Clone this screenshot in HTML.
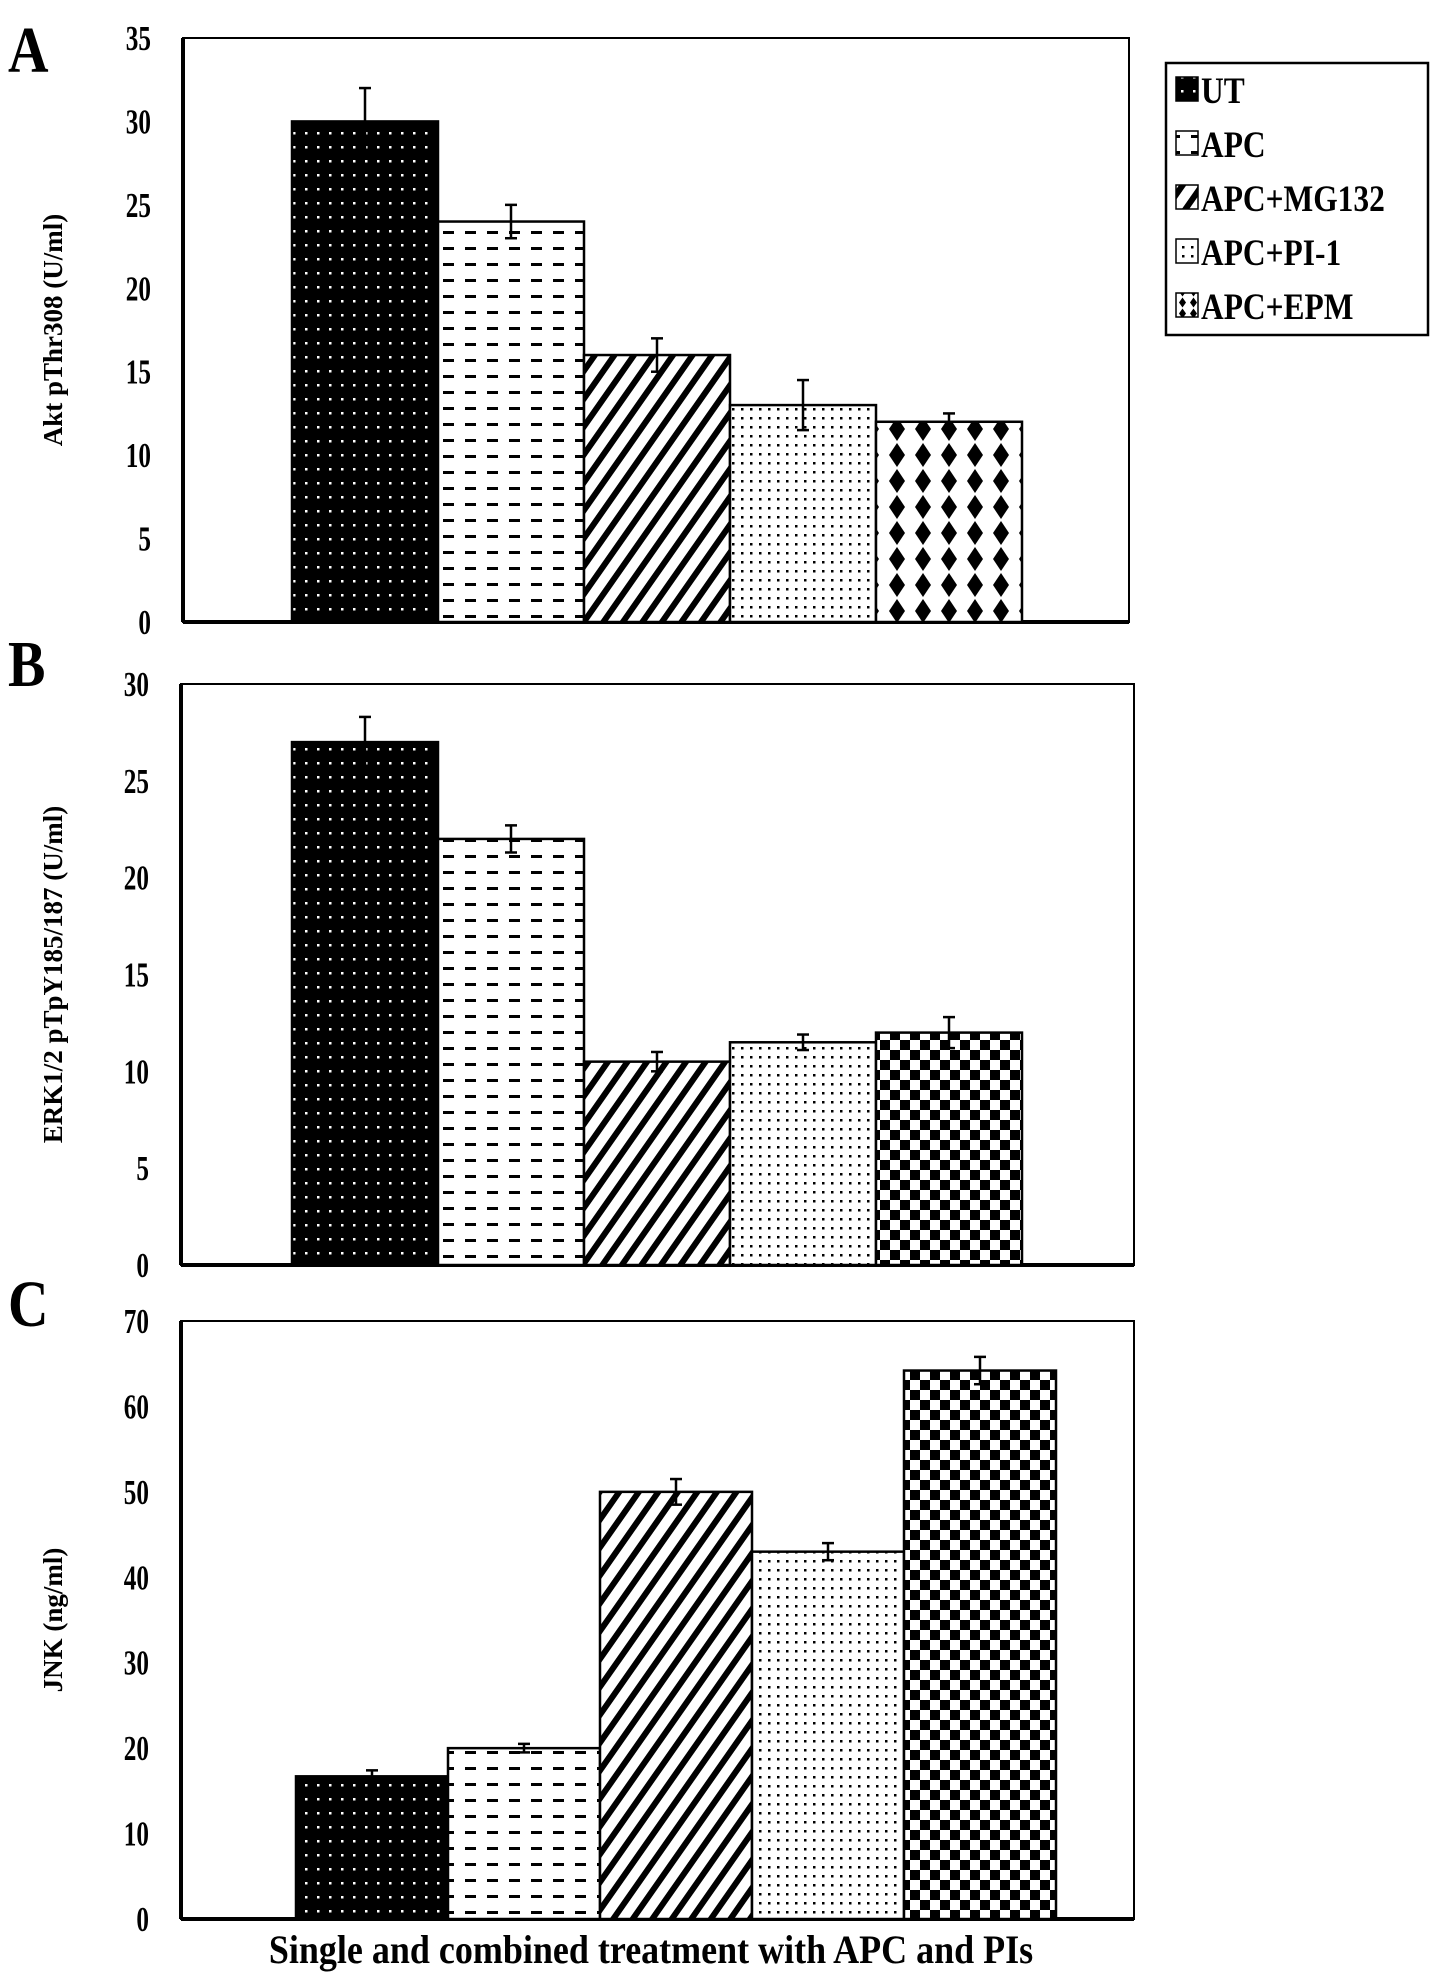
<!DOCTYPE html>
<html><head><meta charset="utf-8"><style>
body{margin:0;background:#fff;}
svg{display:block;font-family:"Liberation Serif",serif;font-weight:bold;}
</style></head><body>
<svg id="fig" width="1441" height="1981" viewBox="0 0 1441 1981" xmlns="http://www.w3.org/2000/svg">
<defs>
<pattern id="pUT" width="12" height="14" patternUnits="userSpaceOnUse"><rect width="12" height="14" fill="#000"/><rect x="5" y="6" width="2.5" height="2.5" fill="#fff"/></pattern>
<pattern id="pAPC" width="22" height="16" patternUnits="userSpaceOnUse"><rect width="22" height="16" fill="#fff"/><rect x="3" y="7" width="11" height="3" fill="#000"/></pattern>
<pattern id="pMG" width="16" height="16" patternUnits="userSpaceOnUse" patternTransform="rotate(35)"><rect width="16" height="16" fill="#fff"/><rect width="6" height="16" fill="#000"/></pattern>
<pattern id="pPI" width="9" height="9" patternUnits="userSpaceOnUse"><rect width="9" height="9" fill="#fff"/><rect x="3" y="3" width="2.5" height="2.5" fill="#000"/></pattern>
<pattern id="pEPM" width="26" height="26" patternUnits="userSpaceOnUse"><rect width="26" height="26" fill="#fff"/><polygon points="13,1 21,13 13,25 5,13" fill="#000"/></pattern>
<pattern id="pCHK" width="20" height="20" patternUnits="userSpaceOnUse"><rect width="20" height="20" fill="#fff"/><rect width="10" height="10" fill="#000"/><rect x="10" y="10" width="10" height="10" fill="#000"/></pattern>
<pattern id="pEPMs" width="11" height="11" patternUnits="userSpaceOnUse"><rect width="11" height="11" fill="#fff"/><polygon points="5.5,0.5 9,5.5 5.5,10.5 2,5.5" fill="#000"/></pattern>
</defs>
<g id="legend"></g>
</svg>
<script>
const categories = ["UT","APC","APC+MG132","APC+PI-1","APC+EPM"];
const valuesA = [30,24,16,13,12];
const errorsA = [2,1,1,1.5,0.5];
const valuesB = [27,22,10.5,11.5,12];
const errorsB = [1.3,0.7,0.5,0.4,0.8];
const valuesC = [16.7,20,50,43,64.2];
const errorsC = [0.7,0.5,1.5,1,1.6];
const ticksA = [0,5,10,15,20,25,30,35];
const ticksB = [0,5,10,15,20,25,30];
const ticksC = [0,10,20,30,40,50,60,70];

const NS="http://www.w3.org/2000/svg";
const svg=document.getElementById('fig');
function mk(tag,attrs,parent){const e=document.createElementNS(NS,tag);for(const k in attrs)e.setAttribute(k,attrs[k]);(parent||svg).appendChild(e);return e;}

function panel(opt){
  const g=mk('g',{});
  
  
  const {x0,x1,y0,y1,max}=opt;
  const yS=v=>y1-(v/max)*(y1-y0);
  mk('rect',{x:x0,y:y0,width:x1-x0,height:y1-y0,fill:'none',stroke:'#000','stroke-width':2},g);
  mk('line',{x1:x0,y1:y0,x2:x0,y2:y1,stroke:'#000','stroke-width':4},g);
  mk('line',{x1:x0,y1:y1,x2:x1,y2:y1,stroke:'#000','stroke-width':4},g);
  opt.ticks.forEach(t=>{
    const tl=mk('text',{x:0,y:0,'text-anchor':'end','font-size':35,transform:`translate(${x0-32},${yS(t)+12}) scale(0.72,1)`},g);
    tl.textContent=t;
    
    
  });
  const L=mk('text',{x:0,y:0,'font-size':66,transform:`translate(${opt.letterX},${opt.letterY}) scale(0.85,1)`},g);
  L.textContent=opt.letter;
  
  
  const yc=(y0+y1)/2;
  const T=mk('text',{x:0,y:0,'text-anchor':'middle','font-size':27,transform:`translate(62,${yc}) rotate(-90)`},g);
  T.textContent=opt.title;
  
  
  const fills=['url(#pUT)','url(#pAPC)','url(#pMG)','url(#pPI)',opt.lastFill];
  opt.values.forEach((v,i)=>{
    const bx=opt.barStart+i*opt.barW;
    const top=yS(v);
    const b=mk('rect',{x:bx,y:top,width:opt.barW,height:y1-top,fill:fills[i],stroke:'#000','stroke-width':2.5},g);
    
    
    const cx=bx+opt.barW/2, e=opt.errors[i];
    const eg=mk('g',{stroke:'#000','stroke-width':2.5},g);
    
    
    mk('line',{x1:cx,y1:yS(v+e),x2:cx,y2:yS(v-e)},eg);
    mk('line',{x1:cx-6,y1:yS(v+e),x2:cx+6,y2:yS(v+e)},eg);
    mk('line',{x1:cx-6,y1:yS(v-e),x2:cx+6,y2:yS(v-e)},eg);
  });
}
panel({name:'panel-a-akt',x0:183,x1:1129,y0:38,y1:622,max:35,ticks:ticksA,values:valuesA,errors:errorsA,barStart:292,barW:146,letter:'A',letterX:8,letterY:72,title:'Akt pThr308 (U/ml)',lastFill:'url(#pEPM)'});
panel({name:'panel-b-erk',x0:181,x1:1134,y0:684,y1:1265,max:30,ticks:ticksB,values:valuesB,errors:errorsB,barStart:292,barW:146,letter:'B',letterX:8,letterY:686,title:'ERK1/2 pTpY185/187 (U/ml)',lastFill:'url(#pCHK)'});
panel({name:'panel-c-jnk',x0:181,x1:1134,y0:1321,y1:1919,max:70,ticks:ticksC,values:valuesC,errors:errorsC,barStart:296,barW:152,letter:'C',letterX:8,letterY:1326,title:'JNK (ng/ml)',lastFill:'url(#pCHK)'});

const xt=mk('text',{x:0,y:0,'text-anchor':'middle','font-size':40,transform:'translate(651,1963) scale(0.9,1)'});
xt.textContent='Single and combined treatment with APC and PIs';



const lg=document.getElementById('legend');
mk('rect',{x:1166,y:63,width:262,height:272,fill:'#fff',stroke:'#000','stroke-width':2.5},lg);
const lf=['url(#pUT)','url(#pAPC)','url(#pMG)','url(#pPI)','url(#pEPMs)'];
categories.forEach((c,i)=>{
  const y=90+i*54;
  const ent=mk('g',{},lg);
  
  
  mk('rect',{x:1176,y:y-13,width:22,height:24,fill:lf[i],stroke:'#000','stroke-width':1.5},ent);
  const t=mk('text',{x:0,y:0,'font-size':37,transform:`translate(1201,${y+13}) scale(0.85,1)`},ent);
  t.textContent=c;
});
</script>
</body></html>
